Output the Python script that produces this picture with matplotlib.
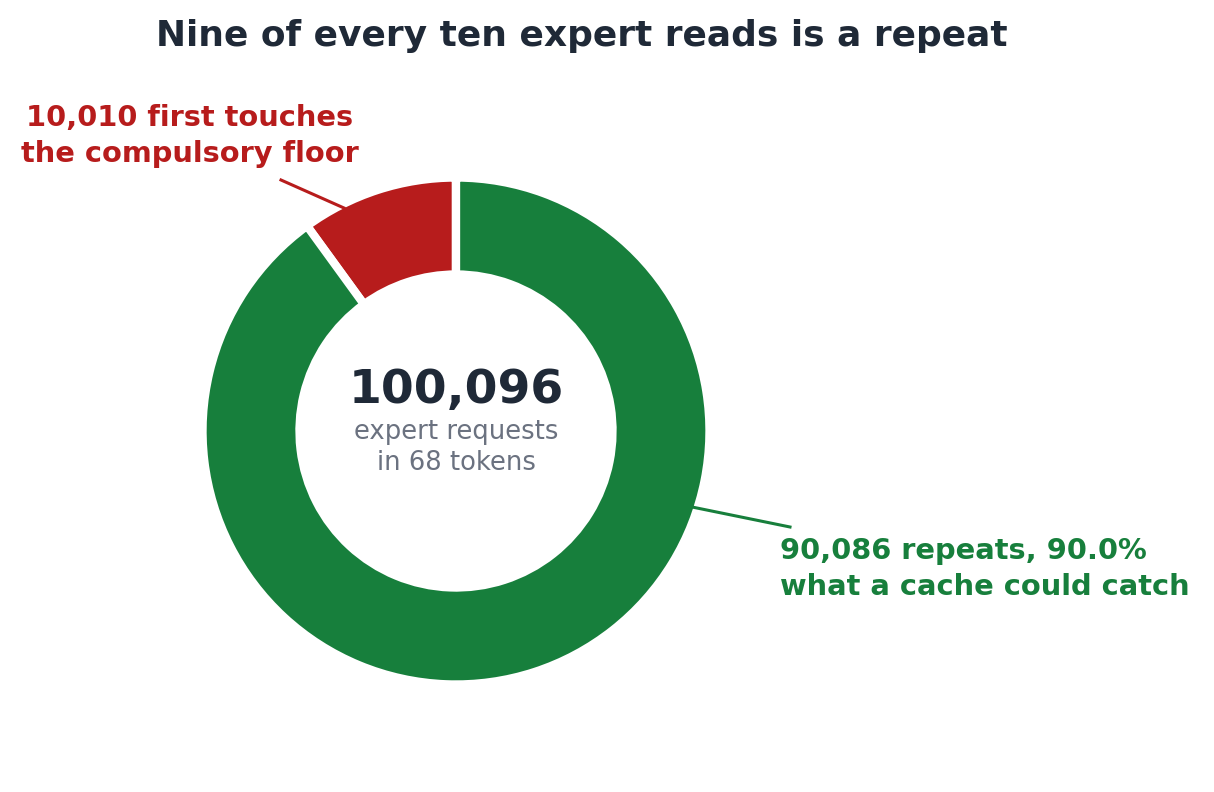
import matplotlib
matplotlib.use('Agg')
import matplotlib.pyplot as plt

# 資料
labels = ["first touches", "repeats"]
counts = [10010, 90086]
colors = ["#b71c1c", "#177f3c"]
total = 100096
title = "Nine of every ten expert reads is a repeat"

W, H = 1214, 792
fig = plt.figure(figsize=(W / 100, H / 100), dpi=100, facecolor='white')
ax = fig.add_axes([0, 0, 1, 1])

cx, cy, r = 456, H - 431, 253.5
ax.pie(counts, colors=colors, startangle=90, counterclock=True,
       center=(cx, cy), radius=r,
       wedgeprops=dict(width=97, edgecolor='white', linewidth=6))
ax.set_xlim(0, W)
ax.set_ylim(0, H)
ax.set_aspect('equal')
ax.axis('off')

# 中央文字
ax.text(cx, H - 390, f"{total:,}", ha='center', va='center',
        fontsize=34, fontweight='bold', color='#1f2937')
ax.text(cx, H - 432, "expert requests", ha='center', va='center',
        fontsize=18.6, color='#6b7280')
ax.text(cx, H - 463, "in 68 tokens", ha='center', va='center',
        fontsize=18.6, color='#6b7280')

# 標題
fig.text(582 / W, 1 - 36 / H, title, ha='center', va='center',
         fontsize=25.9, fontweight='bold', color='#1f2937')

# 標註
pct_rep = counts[1] / total * 100
ax.plot([281, 344], [H - 180, H - 208], color=colors[0], lw=2.2)
ax.text(190, H - 136, f"{counts[0]:,} first touches\nthe compulsory floor",
        ha='center', va='center', fontsize=20.8, fontweight='bold',
        color=colors[0], linespacing=1.32)

ax.plot([692, 790], [H - 507, H - 527], color=colors[1], lw=2.2)
ax.text(780, H - 569, f"{counts[1]:,} repeats, {pct_rep:.1f}%\nwhat a cache could catch",
        ha='left', va='center', fontsize=20.8, fontweight='bold',
        color=colors[1], linespacing=1.32)

fig.savefig("out.png", dpi=100, facecolor='white')
